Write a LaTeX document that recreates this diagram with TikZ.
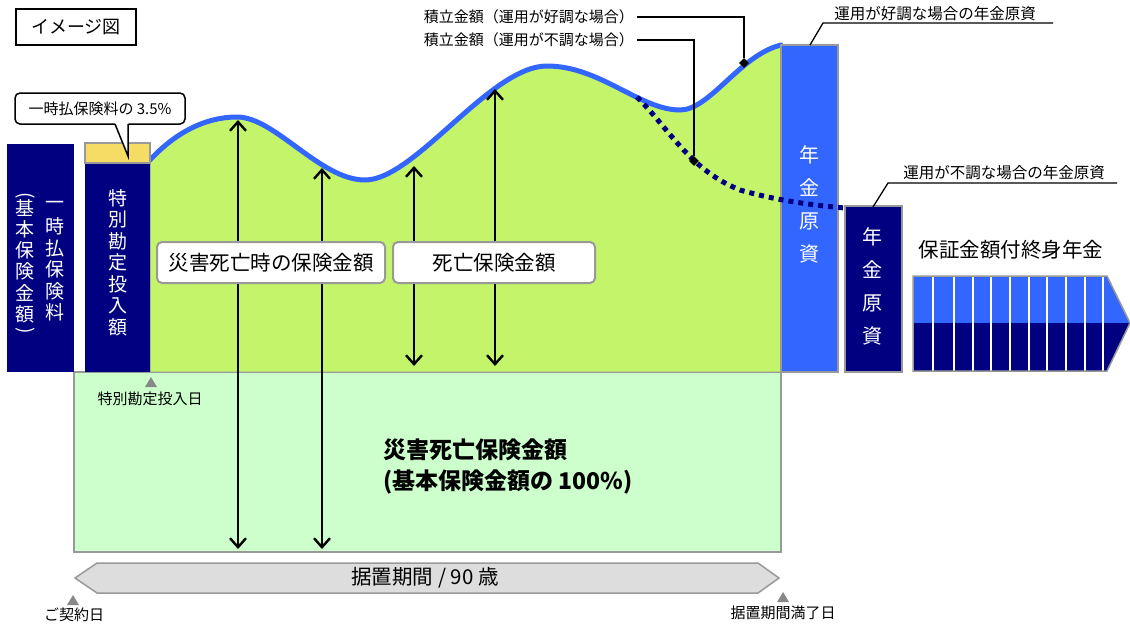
\documentclass[tikz,border=0pt]{standalone}
\usepackage{fontspec}
\setmainfont{Noto Sans CJK JP}
\usetikzlibrary{arrows.meta,shapes.geometric}
\definecolor{navy}{RGB}{0,0,128}
\definecolor{cblue}{RGB}{51,102,255}
\definecolor{cgreen}{RGB}{196,244,106}
\definecolor{clight}{RGB}{204,255,204}
\definecolor{cyellow}{RGB}{245,220,100}
\definecolor{cgray}{RGB}{153,153,153}
\definecolor{cband}{RGB}{221,221,221}
\definecolor{ctri}{RGB}{136,136,136}
\tikzset{
  vchar/.style={inner sep=0pt, text=white, font=\fontsize{19}{19}\selectfont},
  vcharb/.style={inner sep=0pt, text=white, font=\fontsize{20}{20}\selectfont},
  small/.style={inner sep=0pt, font=\fontsize{15}{15}\selectfont},
  lblbox/.style={draw=cgray, line width=2pt, rounded corners=5pt, fill=white, inner sep=0pt,
     minimum height=41pt, font=\fontsize{20.5}{20.5}\selectfont},
  dblarrow/.style={line width=2.4pt, {Straight Barb[length=9pt,width=16pt]}-{Straight Barb[length=9pt,width=16pt]}},
  mark diamond/.style={diamond, fill=black, inner sep=0pt, minimum size=10pt},
  tri/.style={fill=ctri},
}
\newcommand{\topcurve}{(150,160) .. controls (175,133) and (205,117) .. (237,117)
   .. controls (275,117) and (320,180) .. (365,180)
   .. controls (415,180) and (490,66) .. (547,66)
   .. controls (600,66) and (640,110) .. (680,110)
   .. controls (710,110) and (740,55) .. (781,45)}
\begin{document}
\begin{tikzpicture}[x=1pt,y=-1pt]
\useasboundingbox (0,0) rectangle (1130,627);

% light green death benefit box
\filldraw[fill=clight, draw=cgray, line width=1.5pt] (74,372) rectangle (781,552);
% green accumulation area
\filldraw[fill=cgreen, draw=cgray, line width=1pt] (781,372) -- (150,372) -- \topcurve -- cycle;
\draw[cblue, line width=5pt, line cap=round] \topcurve;

% left columns
\fill[navy] (7,144) rectangle (74,372);
\fill[navy] (85,163) rectangle (150,372);
\filldraw[fill=cyellow, draw=cgray, line width=1.5pt] (85,143) rectangle (150,163);

% right columns
\filldraw[fill=cblue, draw=cgray, line width=1.5pt] (781,45) rectangle (838,372);
\filldraw[fill=navy, draw=cgray, line width=1.5pt] (845,206) rectangle (902,372);

% pension band
\fill[cblue] (913,276) -- (1107,276) -- (1130,323) -- (913,323) -- cycle;
\fill[navy] (913,323) -- (1130,323) -- (1107,371) -- (913,371) -- cycle;
\foreach \xx in {933,954,973,991,1010,1029,1047,1066,1085,1103}
  \draw[white, line width=2.5pt] (\xx,276) -- (\xx,371);
\draw[cgray, line width=1.5pt] (913,276) -- (1107,276) -- (1130,323) -- (1107,371) -- (913,371) -- cycle;

% dotted poor-performance line
\draw[navy, line width=5pt, dash pattern=on 5pt off 5pt]
  (637,97) .. controls (670,130) and (690,170) .. (740,190)
           .. controls (775,200) and (810,205) .. (845,208);

% vertical text in columns
\foreach \c [count=\i from 0] in {一,時,払,保,険,料}
  \node[vchar, name=ca\i] at (55,{205+21.5*\i}) {\c};
\node[vchar, rotate=-90, name=cbo] at (25,196) {(};
\foreach \c [count=\i from 0] in {基,本,保,険,金,額}
  \node[vchar, name=cb\i] at (25,{208+21.2*\i}) {\c};
\node[vchar, rotate=-90, name=cbc] at (25,331) {)};
\foreach \c [count=\i from 0] in {特,別,勘,定,投,入,額}
  \node[vchar, name=cc\i] at (118,{198+21.5*\i}) {\c};
\foreach \c [count=\i from 0] in {年,金,原,資}
  \node[vcharb, name=cd\i] at (809,{155+33*\i}) {\c};
\foreach \c [count=\i from 0] in {年,金,原,資}
  \node[vcharb, name=ce\i] at (872,{237+33*\i}) {\c};

% arrows
\coordinate (a1t) at (238,120); \coordinate (a1b) at (238,549);
\coordinate (a2t) at (322,168); \coordinate (a2b) at (322,549);
\coordinate (a3t) at (414,166); \coordinate (a3b) at (414,366);
\coordinate (a4t) at (495,89);  \coordinate (a4b) at (495,366);
\draw[dblarrow] (a1t) -- (a1b);
\draw[dblarrow] (a2t) -- (a2b);
\draw[dblarrow] (a3t) -- (a3b);
\draw[dblarrow] (a4t) -- (a4b);

% label boxes
\node[lblbox, minimum width=228pt] (lbl1) at (271,262.5) {災害死亡時の保険金額};
\node[lblbox, minimum width=202pt] (lbl2) at (494,262.5) {死亡保険金額};

% death benefit text
\node[inner sep=0pt, anchor=west, font=\fontsize{23}{23}\selectfont\bfseries] (db1) at (383,450) {災害死亡保険金額};
\node[inner sep=0pt, anchor=west, font=\fontsize{23}{23}\selectfont\bfseries] (db2) at (383,482) {(基本保険金額の 100\%)};

% title box
\node[draw=black, line width=1.5pt, minimum width=120pt, minimum height=36pt, inner sep=0pt,
      font=\fontsize{18}{18}\selectfont] (title) at (76,27) {イメージ図};

% 3.5% callout
\node[draw=black, line width=1.5pt, rounded corners=5pt, fill=white, minimum width=170pt,
      minimum height=31pt, inner sep=0pt, font=\fontsize{15}{15}\selectfont] (co) at (100,108.5) {一時払保険料の 3.5\%};
\coordinate (cotip) at (128,156);
\fill[white] (114.5,122) -- (cotip) -- (128.5,122) -- cycle;
\draw[line width=1.5pt, line join=miter] (115,124) -- (cotip) -- (128,124);

% markers under the timeline
\fill[tri] (151,377) -- (157,387) -- (145,387) -- cycle;
\node[small] (d1) at (150,399) {特別勘定投入日};

% bottom timeline arrow
\filldraw[fill=cband, draw=cgray, line width=1.5pt]
  (75,578) -- (97,563) -- (758,563) -- (779,578) -- (758,593) -- (97,593) -- cycle;
\node[inner sep=0pt, font=\fontsize{20.5}{20.5}\selectfont] (period) at (425,578) {据置期間 / 90 歳};
\fill[tri] (73,595) -- (79,605) -- (67,605) -- cycle;
\node[small] (d0) at (74,615) {ご契約日};
\fill[tri] (783,592) -- (789,602) -- (777,602) -- cycle;
\node[small] (d2) at (783,613) {据置期間満了日};

% top accumulated-amount labels
\node[small, anchor=east] (lg) at (634,17) {積立金額（運用が好調な場合）};
\node[small, anchor=east] (lb) at (634,40) {積立金額（運用が不調な場合）};
\node[mark diamond] (mg) at (744,63) {};
\node[mark diamond] (mb) at (694,161) {};
\draw[line width=1.3pt] ([xshift=3pt]lg.east) -- (lg.east -| mg) -- (mg);
\draw[line width=1.3pt] ([xshift=3pt]lb.east) -- (lb.east -| mb) -- (mb);

% pension fund labels
\node[small, font=\fontsize{15.5}{15.5}\selectfont] (pg) at (935,14) {運用が好調な場合の年金原資};
\coordinate (pg1) at (1053,23); \coordinate (pg2) at (823,23); \coordinate (pg3) at (810,45);
\draw[line width=1.3pt] (pg1) -- (pg2) -- (pg3);
\node[small, font=\fontsize{15.5}{15.5}\selectfont] (pb) at (1004,173) {運用が不調な場合の年金原資};
\coordinate (pb1) at (1117,183); \coordinate (pb2) at (888,183); \coordinate (pb3) at (873,207);
\draw[line width=1.3pt] (pb1) -- (pb2) -- (pb3);

\node[inner sep=0pt, font=\fontsize{20.5}{20.5}\selectfont] (life) at (1011,250) {保証金額付終身年金};
\end{tikzpicture}
\end{document}
